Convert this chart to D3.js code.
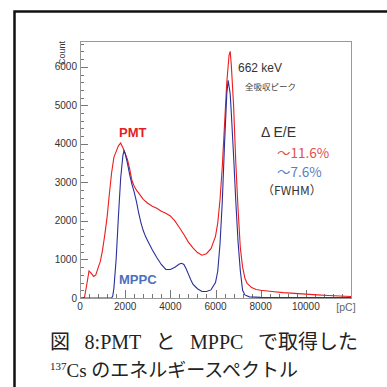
<!DOCTYPE html>
<html>
<head>
<meta charset="utf-8">
<script src="https://cdn.jsdelivr.net/npm/d3@7"></script>
<style>
  body { margin: 0; background: #fff; }
  svg { display: block; }
</style>
</head>
<body>
<svg width="387" height="387"></svg>
<script>
// PMT spectrum (pC, counts)
var pmtCharge = [0, 100, 200, 300, 400, 500, 600, 700, 800, 900, 1000, 1100, 1200, 1300, 1400, 1500, 1600, 1700, 1800, 1900,
  2000, 2100, 2200, 2300, 2400, 2500, 2600, 2800, 3000, 3200, 3400, 3600, 3800, 4000, 4200, 4400, 4600, 4800, 5000,
  5200, 5400, 5600, 5800, 6000, 6100, 6200, 6300, 6400, 6500, 6600, 6650, 6700, 6800, 6900, 7000, 7100, 7200, 7300,
  7400, 7600, 7800, 8000, 8500, 9000, 9500, 10000, 10500, 11000, 11500, 12000];
var pmtCounts = [0, 0, 20, 350, 700, 640, 560, 600, 780, 950, 1250, 1650, 2100, 2700, 3250, 3650, 3800, 3950, 4020, 3900,
  3750, 3600, 3350, 3050, 2900, 2800, 2720, 2560, 2460, 2380, 2330, 2250, 2200, 2130, 2000, 1830, 1650, 1450, 1300,
  1180, 1110, 1150, 1280, 1600, 1950, 2550, 3400, 4500, 5600, 6300, 6400, 6050, 5000, 3500, 2300, 1300, 800, 520,
  380, 270, 220, 200, 170, 140, 120, 100, 80, 65, 50, 40];

// MPPC spectrum
var mppcCharge = [0, 1400, 1450, 1500, 1600, 1700, 1800, 1900, 1950, 2000, 2100, 2200, 2300, 2400, 2500, 2600, 2700, 2800,
  2900, 3000, 3200, 3400, 3600, 3800, 4000, 4200, 4400, 4500, 4600, 4700, 4800, 4900, 5000, 5200, 5400, 5600, 5800,
  6000, 6100, 6200, 6300, 6400, 6500, 6560, 6650, 6700, 6800, 6900, 7000, 7100, 7200, 7300, 7500, 8000, 12000];
var mppcCounts = [0, 0, 50, 250, 1000, 2100, 3100, 3700, 3820, 3750, 3500, 3200, 2950, 2750, 2500, 2200, 1950, 1750,
  1600, 1480, 1250, 1050, 870, 740, 740, 800, 880, 900, 870, 760, 620, 480, 360, 240, 170, 170, 210,
  400, 700, 1400, 2500, 4000, 5300, 5650, 5300, 4800, 3700, 2500, 1450, 700, 200, 80, 30, 15, 10];

var xTicks = [0, 2000, 4000, 6000, 8000, 10000];
var yTicks = [0, 1000, 2000, 3000, 4000, 5000, 6000];

var svg = d3.select("svg");

// outer figure frame (top and left edges visible)
svg.append("path")
    .attr("d", "M14.5,400 L14.5,11.5 L400,11.5")
    .attr("fill", "none")
    .attr("stroke", "#111")
    .attr("stroke-width", 2.5);

var margin = {left: 80, top: 41, right: 36, bottom: 89};
var width = 387 - margin.left - margin.right,
    height = 387 - margin.top - margin.bottom;

var x = d3.scaleLinear().domain([0, 12000]).range([0, width]);
var y = d3.scaleLinear().domain([0, 6670]).range([height, 0]);

var g = svg.append("g").attr("transform", "translate(" + margin.left + "," + margin.top + ")");

// inward ROOT-style ticks
var tickColor = "#777";
d3.range(0, 6601, 200).forEach(function(v) {
  var major = v % 1000 === 0;
  g.append("line")
      .attr("x1", 0).attr("x2", major ? 8 : 4)
      .attr("y1", Math.round(y(v)) + 0.5).attr("y2", Math.round(y(v)) + 0.5)
      .attr("stroke", tickColor);
});
d3.range(0, 12001, 400).forEach(function(v) {
  var major = v % 2000 === 0;
  g.append("line")
      .attr("x1", Math.round(x(v)) + 0.5).attr("x2", Math.round(x(v)) + 0.5)
      .attr("y1", height).attr("y2", height - (major ? 8 : 4))
      .attr("stroke", tickColor);
});

var lineOf = function(xs) {
  return d3.line()
      .x(function(d, i) { return x(xs[i]); })
      .y(function(d) { return y(d); })
      .curve(d3.curveLinear);
};

g.append("path")
    .attr("d", lineOf(pmtCharge)(pmtCounts))
    .attr("fill", "none")
    .attr("stroke", "#ee1c1c")
    .attr("stroke-width", 1.1);

g.append("path")
    .attr("d", lineOf(mppcCharge)(mppcCounts))
    .attr("fill", "none")
    .attr("stroke", "#2a2f9a")
    .attr("stroke-width", 1.1);

// frame
g.append("rect")
    .attr("x", 0.5).attr("y", 0.5)
    .attr("width", width).attr("height", height)
    .attr("fill", "none")
    .attr("stroke", "#999");

// tick labels
g.selectAll(".ylab").data(yTicks).enter().append("text")
    .attr("x", -3)
    .attr("y", function(d) { return y(d) + 3.5; })
    .attr("text-anchor", "end")
    .attr("font-family", "Liberation Sans, Arial, sans-serif")
    .attr("font-size", 10)
    .attr("fill", "#333")
    .text(function(d) { return d; });

g.selectAll(".xlab").data(xTicks).enter().append("text")
    .attr("x", function(d) { return x(d); })
    .attr("y", height + 12)
    .attr("text-anchor", "middle")
    .attr("font-family", "Liberation Sans, Arial, sans-serif")
    .attr("font-size", 10)
    .attr("fill", "#333")
    .text(function(d) { return d; });

g.append("text")
    .attr("x", width - 5)
    .attr("y", height + 13)
    .attr("text-anchor", "middle")
    .attr("font-family", "Liberation Sans, Arial, sans-serif")
    .attr("font-size", 10.5)
    .attr("fill", "#666")
    .text("[pC]");

g.append("text")
    .attr("transform", "translate(-15,0) rotate(-90)")
    .attr("text-anchor", "end")
    .attr("font-family", "Liberation Sans, Arial, sans-serif")
    .attr("font-size", 9)
    .attr("fill", "#333")
    .text("Count");

// annotations
var sans = "Liberation Sans, Arial, sans-serif";
var jp = "Noto Sans CJK JP, sans-serif";
function note(px, py, txt, size, color, opts) {
  opts = opts || {};
  svg.append("text")
      .attr("x", px).attr("y", py)
      .attr("font-family", opts.family || sans)
      .attr("font-size", size)
      .attr("font-weight", opts.weight || "normal")
      .attr("fill", color)
      .text(txt);
}
note(119, 137, "PMT", 13, "#e31e24", {weight: "bold"});
note(119, 284, "MPPC", 13, "#4a6fc0", {weight: "bold"});
note(238, 72, "662 keV", 12, "#333");
note(245, 90, "全吸収ピーク", 8.5, "#444", {family: jp});
note(261, 137, "Δ E/E", 14, "#333");
note(277, 158, "～11.6%", 13.5, "#e05050", {family: jp});
note(277, 177, "～7.6%", 13.5, "#5a7fc0", {family: jp});
note(262, 195, "（FWHM）", 12, "#333", {family: jp});

// caption
var serif = "Liberation Serif, Noto Sans CJK JP, serif";
var cap1 = svg.append("text")
    .attr("x", 50).attr("y", 349)
    .attr("font-family", serif)
    .attr("font-size", 20)
    .attr("fill", "#222")
    .text("図 8:PMT と MPPC で取得した");
var natural = cap1.node().getComputedTextLength();
cap1.attr("word-spacing", Math.max(0, (308 - natural) / 4));

var cap2 = svg.append("text")
    .attr("x", 50).attr("y", 377)
    .attr("font-family", serif)
    .attr("font-size", 19)
    .attr("fill", "#222");
cap2.append("tspan").attr("font-size", 11).attr("dy", -7).text("137");
cap2.append("tspan").attr("dy", 7).text("Cs のエネルギースペクトル");
</script>
</body>
</html>
